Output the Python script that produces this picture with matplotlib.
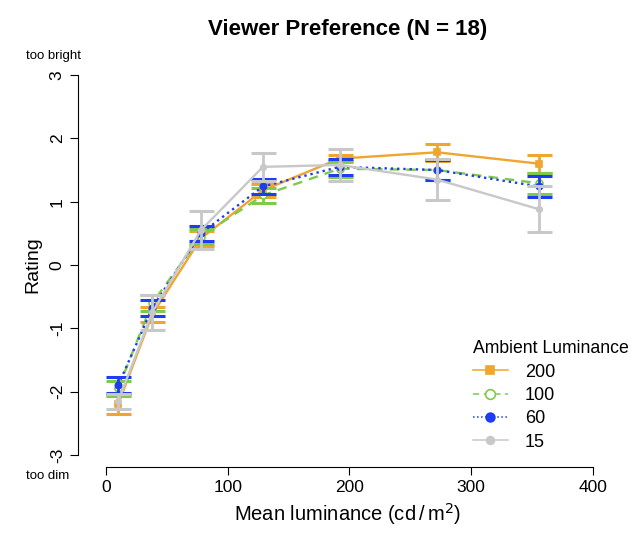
import matplotlib
matplotlib.use("Agg")
import matplotlib.pyplot as plt

x_vals = [10, 38, 78, 129, 192, 272, 356]

labels = ["200", "100", "60", "15"]
y_200 = [-2.20, -0.78, 0.42, 1.18, 1.68, 1.78, 1.60]
e_200 = [0.15, 0.12, 0.12, 0.10, 0.06, 0.13, 0.14]
y_100 = [-1.95, -0.60, 0.45, 1.10, 1.52, 1.50, 1.29]
e_100 = [0.12, 0.13, 0.12, 0.12, 0.13, 0.16, 0.17]
y_60 = [-1.90, -0.68, 0.50, 1.24, 1.55, 1.50, 1.24]
e_60 = [0.125, 0.13, 0.12, 0.12, 0.13, 0.16, 0.17]
y_15 = [-2.15, -0.75, 0.55, 1.55, 1.58, 1.35, 0.88]
e_15 = [0.12, 0.28, 0.30, 0.22, 0.25, 0.32, 0.36]

x_ticks = [0, 100, 200, 300, 400]
y_ticks = [-3, -2, -1, 0, 1, 2, 3]

plt.rcParams['font.family'] = ['Liberation Sans', 'DejaVu Sans']

fig = plt.figure(figsize=(6.39, 5.39), dpi=100)
ax = fig.add_axes([0.1221, 0.1336, 0.8435, 0.7495])

series = [
    (y_200, e_200, '#EFA52E', '-', 's', '#EFA52E', 4.5),
    (y_100, e_100, '#7DCB4A', (0, (4, 3)), 'o', 'white', 5),
    (y_60, e_60, '#1E3CF0', ':', 'o', '#1E3CF0', 4.5),
    (y_15, e_15, '#C8C8C8', '-', 'o', '#C8C8C8', 4),
]
handles = []
for (yv, ev, col, ls, mk, mfc, ms), lab in zip(series, labels):
    ax.errorbar(x_vals, yv, yerr=ev, fmt='none', ecolor=col, elinewidth=2,
                capsize=9, capthick=2.2)
    h, = ax.plot(x_vals, yv, color=col, linestyle=ls, linewidth=1.7,
                 marker=mk, markerfacecolor=mfc, markeredgecolor=col,
                 markeredgewidth=1.2, markersize=ms, label=lab)
    handles.append(h)

ax.set_xlim(-23, 420)
ax.set_ylim(-3.19, 3.19)
ax.set_xticks(x_ticks)
ax.set_yticks(y_ticks)
ax.set_yticklabels([str(t) for t in y_ticks], rotation=90, va='center')
ax.spines['top'].set_visible(False)
ax.spines['right'].set_visible(False)
ax.spines['left'].set_bounds(-3, 3)
ax.spines['bottom'].set_bounds(0, 400)
ax.tick_params(labelsize=12.5, length=6)

ax.set_title("Viewer Preference (N = 18)", fontsize=16, fontweight='bold', pad=20)
ax.set_xlabel("Mean luminance (cd$\\,$/$\\,$m$^2$)", fontsize=14.5)
ax.set_ylabel("Rating", fontsize=14, labelpad=6)

fig.text(0.04, 0.897, "too bright", fontsize=9.5, va='center')
fig.text(0.04, 0.117, "too dim", fontsize=9.5, va='center')

leg = ax.legend(handles=handles, title="Ambient Luminance", frameon=False,
                loc='upper left', bbox_to_anchor=(0.72, 0.392),
                bbox_transform=fig.transFigure, fontsize=13, title_fontsize=12.7,
                handlelength=1.95, labelspacing=0.35, alignment='left',
                markerscale=1.4, borderpad=0.2, handletextpad=0.95)
for ln in leg.get_lines():
    ln.set_linewidth(1.1)

fig.savefig("out.png", dpi=100)
